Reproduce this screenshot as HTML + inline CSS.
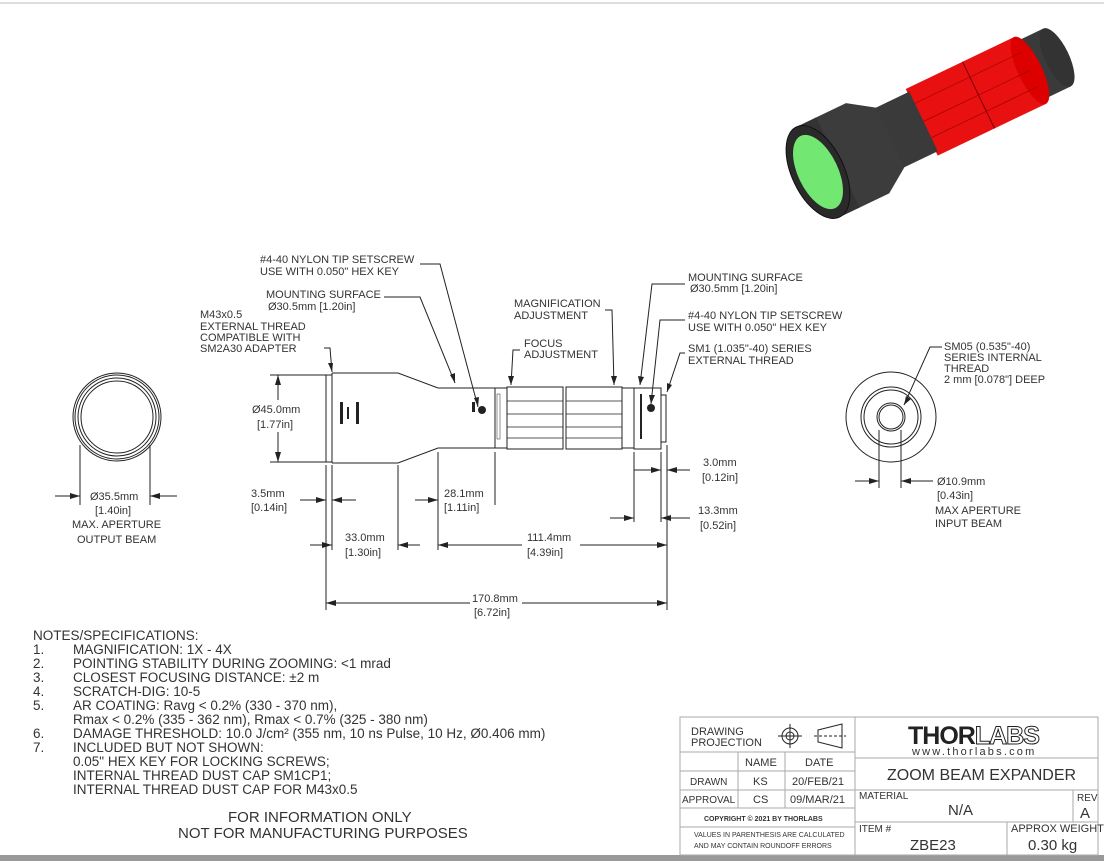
<!DOCTYPE html>
<html><head><meta charset="utf-8"><style>
body{margin:0;background:#fff}
svg{display:block;font-family:"Liberation Sans",sans-serif;fill:#333;font-size:11px}
</style></head><body>
<svg width="1104" height="861" viewBox="0 0 1104 861" xmlns="http://www.w3.org/2000/svg" font-size="11">
<rect width="1104" height="861" fill="#fff"/>
<line x1="0" y1="3" x2="1104" y2="3" stroke="#bbb"/>
<rect x="0" y="855" width="1104" height="6" fill="#999"/>

<!-- 3D render -->
<g transform="translate(818,172) rotate(-25.6)">
  <rect x="235" y="-32" width="30" height="64" fill="#3a3a3a"/>
  <ellipse cx="265" cy="0" rx="12" ry="32" fill="#333"/>
  <rect x="115" y="-37" width="120" height="74" fill="#e81010"/>
  <ellipse cx="235" cy="0" rx="12" ry="37" fill="#d00"/>
  <line x1="178" y1="-37" x2="178" y2="37" stroke="#700"/>
  <line x1="115" y1="-20" x2="235" y2="-20" stroke="#900" stroke-width=".6"/>
  <line x1="115" y1="0" x2="235" y2="0" stroke="#900" stroke-width=".6"/>
  <line x1="115" y1="18" x2="235" y2="18" stroke="#900" stroke-width=".6"/>
  <rect x="75" y="-33" width="42" height="66" fill="#3a3a3a"/>
  <path d="M20,-50 L55,-50 L80,-33 L80,33 L55,50 L20,50 Z" fill="#3c3c3c"/>
  <rect x="0" y="-50" width="22" height="100" fill="#333"/>
  <ellipse cx="0" cy="0" rx="26" ry="50" fill="#2a2a2a" stroke="#111"/>
  <ellipse cx="0" cy="0" rx="20" ry="40" fill="#72e872"/>
</g>

<!-- left end view -->
<g fill="none" stroke="#222">
<circle cx="117" cy="417" r="44"/><circle cx="117" cy="417" r="42"/><circle cx="117" cy="417" r="39"/><circle cx="117" cy="417" r="36"/>
<line x1="80" y1="445" x2="80" y2="505"/><line x1="150" y1="445" x2="150" y2="505"/>
<line x1="55" y1="496" x2="80" y2="496"/><line x1="150" y1="496" x2="177" y2="496"/>
</g>
<path d="M80,496 l-10,-3 v6z M150,496 l10,-3 v6z" fill="#222"/>
<text x="90" y="500">Ø35.5mm</text><text x="95" y="514">[1.40in]</text>
<text x="72" y="528">MAX. APERTURE</text><text x="77" y="543">OUTPUT BEAM</text>

<!-- main body -->
<g fill="none" stroke="#222">
<rect x="326" y="375" width="6" height="87"/>
<path d="M332,373 L398,373 L438,388 L495,388 M332,463 L398,463 L438,448 L495,448 M332,373 V463"/>
<rect x="495" y="388" width="12" height="60"/>
<rect x="507" y="387" width="56" height="62"/>
<rect x="566" y="387" width="56" height="62"/>
<rect x="622" y="388" width="12" height="60"/>
<rect x="634" y="388" width="27" height="61"/>
<rect x="661" y="395" width="5" height="47"/>
<path d="M507,401 H563 M507,414 H563 M507,427 H563 M507,438 H563 M566,401 H622 M566,414 H622 M566,427 H622 M566,438 H622" stroke-width=".7"/>
<line x1="270" y1="375" x2="326" y2="375"/><line x1="270" y1="462" x2="326" y2="462"/>
<line x1="278" y1="375" x2="278" y2="400"/><line x1="278" y1="432" x2="278" y2="462"/>
<line x1="326" y1="465" x2="326" y2="610"/><line x1="332" y1="465" x2="332" y2="550"/>
<line x1="398" y1="465" x2="398" y2="550"/><line x1="438" y1="452" x2="438" y2="550"/>
<line x1="495" y1="452" x2="495" y2="505"/>
<line x1="634" y1="452" x2="634" y2="522"/><line x1="661" y1="452" x2="661" y2="522"/>
<line x1="667" y1="445" x2="667" y2="610"/>
<line x1="300" y1="500" x2="326" y2="500"/><line x1="332" y1="500" x2="356" y2="500"/>
<line x1="310" y1="545" x2="332" y2="545"/><line x1="398" y1="545" x2="420" y2="545"/>
<line x1="415" y1="500" x2="438" y2="500"/>
<line x1="438" y1="545" x2="522" y2="545"/><line x1="580" y1="545" x2="667" y2="545"/>
<line x1="326" y1="603" x2="470" y2="603"/><line x1="522" y1="603" x2="667" y2="603"/>
<line x1="634" y1="470" x2="661" y2="470"/><line x1="667" y1="470" x2="690" y2="470"/>
<line x1="610" y1="518" x2="634" y2="518"/><line x1="661" y1="518" x2="690" y2="518"/>
<polyline points="324,348 330,348 332,372"/>
<polyline points="384,297 420,297 455,383"/>
<polyline points="420,264 440,264 478,407"/>
<polyline points="520,350 513,350 511,385"/>
<polyline points="605,310 612,310 614,385"/>
<polyline points="685,284 652,284 640,385"/>
<polyline points="685,320 660,320 651,404"/>
<polyline points="685,353 680,353 667,392"/>
<polyline points="942,347 930,347 904,405"/>
</g>
<path d="M278,375 l-3,10 h6z M278,462 l-3,-10 h6z M326,500 l-10,-3 v6z M332,500 l10,-3 v6z M332,545 l-10,-3 v6z M398,545 l10,-3 v6z M438,500 l-10,-3 v6z M438,545 l10,-3 v6z M667,545 l-10,-3 v6z M326,603 l10,-3 v6z M667,603 l-10,-3 v6z M661,470 l-10,-3 v6z M667,470 l10,-3 v6z M634,518 l-10,-3 v6z M661,518 l10,-3 v6z
M332,372 l-4,-9 l5,0z M455,383 l-5,-8 l5,-2z M478,407 l-4,-9 l5,-1z M511,385 l-3,-9 h6z M614,385 l-3,-9 h6z M640,385 l-2,-9 l6,1z M651,404 l-2,-9 l6,0z M667,392 l0,-9 l5,2z M904,405 l2,-9 l5,3z" fill="#222"/>
<g fill="#222"><rect x="340" y="402" width="3" height="22"/><rect x="347" y="407" width="2" height="12"/><rect x="356" y="402" width="3" height="22"/><rect x="472" y="402" width="3" height="10"/><circle cx="482" cy="410" r="4"/><rect x="497" y="394" width="3" height="45" fill="none" stroke="#222" stroke-width=".5"/><rect x="640" y="394" width="2" height="45"/><circle cx="651" cy="408" r="4"/></g>

<text x="260" y="263">#4-40 NYLON TIP SETSCREW</text><text x="260" y="275">USE WITH 0.050" HEX KEY</text>
<text x="266" y="298">MOUNTING SURFACE</text><text x="268" y="310">Ø30.5mm [1.20in]</text>
<text x="200" y="318">M43x0.5</text><text x="200" y="330">EXTERNAL THREAD</text><text x="200" y="341">COMPATIBLE WITH</text><text x="200" y="352">SM2A30 ADAPTER</text>
<text x="514" y="307">MAGNIFICATION</text><text x="514" y="319">ADJUSTMENT</text>
<text x="524" y="347">FOCUS</text><text x="524" y="358">ADJUSTMENT</text>
<text x="688" y="281">MOUNTING SURFACE</text><text x="690" y="292">Ø30.5mm [1.20in]</text>
<text x="688" y="319">#4-40 NYLON TIP SETSCREW</text><text x="688" y="331">USE WITH 0.050" HEX KEY</text>
<text x="688" y="352">SM1 (1.035"-40) SERIES</text><text x="688" y="364">EXTERNAL THREAD</text>
<text x="252" y="413">Ø45.0mm</text><text x="257" y="428">[1.77in]</text>
<text x="251" y="497">3.5mm</text><text x="251" y="511">[0.14in]</text>
<text x="345" y="541">33.0mm</text><text x="345" y="556">[1.30in]</text>
<text x="444" y="497">28.1mm</text><text x="444" y="511">[1.11in]</text>
<text x="527" y="541">111.4mm</text><text x="527" y="556">[4.39in]</text>
<text x="472" y="602">170.8mm</text><text x="474" y="616">[6.72in]</text>
<text x="703" y="466">3.0mm</text><text x="702" y="481">[0.12in]</text>
<text x="698" y="514">13.3mm</text><text x="700" y="529">[0.52in]</text>

<g fill="none" stroke="#222">
<circle cx="891" cy="417" r="45"/><circle cx="891" cy="417" r="30"/><circle cx="891" cy="417" r="27"/><circle cx="891" cy="417" r="14"/><circle cx="891" cy="417" r="12"/>
<line x1="879" y1="430" x2="879" y2="488"/><line x1="901" y1="430" x2="901" y2="488"/>
<line x1="855" y1="481" x2="879" y2="481"/><line x1="901" y1="481" x2="933" y2="481"/>
</g>
<path d="M879,481 l-10,-3 v6z M901,481 l10,-3 v6z" fill="#222"/>
<text x="944" y="350">SM05 (0.535"-40)</text><text x="944" y="361">SERIES INTERNAL</text><text x="944" y="372">THREAD</text><text x="944" y="383">2 mm [0.078"] DEEP</text>
<text x="937" y="485">Ø10.9mm</text><text x="937" y="499">[0.43in]</text><text x="935" y="514">MAX APERTURE</text><text x="935" y="527">INPUT BEAM</text>

<g font-size="13.5">
<text x="33" y="640">NOTES/SPECIFICATIONS:</text>
<text x="33" y="654">1.</text><text x="73" y="654">MAGNIFICATION: 1X - 4X</text>
<text x="33" y="668">2.</text><text x="73" y="668">POINTING STABILITY DURING ZOOMING: &lt;1 mrad</text>
<text x="33" y="682">3.</text><text x="73" y="682">CLOSEST FOCUSING DISTANCE: ±2 m</text>
<text x="33" y="696">4.</text><text x="73" y="696">SCRATCH-DIG: 10-5</text>
<text x="33" y="710">5.</text><text x="73" y="710">AR COATING: Ravg &lt; 0.2% (330 - 370 nm),</text>
<text x="73" y="724">Rmax &lt; 0.2% (335 - 362 nm), Rmax &lt; 0.7% (325 - 380 nm)</text>
<text x="33" y="738">6.</text><text x="73" y="738">DAMAGE THRESHOLD: 10.0 J/cm² (355 nm, 10 ns Pulse, 10 Hz, Ø0.406 mm)</text>
<text x="33" y="752">7.</text><text x="73" y="752">INCLUDED BUT NOT SHOWN:</text>
<text x="73" y="766">0.05" HEX KEY FOR LOCKING SCREWS;</text>
<text x="73" y="780">INTERNAL THREAD DUST CAP SM1CP1;</text>
<text x="73" y="794">INTERNAL THREAD DUST CAP FOR M43x0.5</text>
<text x="228" y="822" font-size="15">FOR INFORMATION ONLY</text>
<text x="178" y="838" font-size="15">NOT FOR MANUFACTURING PURPOSES</text>
</g>

<g fill="none" stroke="#aaa">
<rect x="680" y="717" width="418" height="138"/>
<line x1="855" y1="717" x2="855" y2="855"/>
<line x1="680" y1="752" x2="855" y2="752"/><line x1="680" y1="771" x2="855" y2="771"/><line x1="680" y1="790" x2="855" y2="790"/><line x1="680" y1="808" x2="855" y2="808"/><line x1="680" y1="827" x2="855" y2="827"/>
<line x1="738" y1="752" x2="738" y2="808"/><line x1="785" y1="752" x2="785" y2="808"/>
<line x1="855" y1="758" x2="1098" y2="758"/><line x1="855" y1="790" x2="1098" y2="790"/><line x1="855" y1="822" x2="1098" y2="822"/>
<line x1="1073" y1="790" x2="1073" y2="822"/><line x1="1007" y1="822" x2="1007" y2="855"/>
</g>
<g fill="none" stroke="#222">
<circle cx="790" cy="736" r="8"/><circle cx="790" cy="736" r="4"/><line x1="778" y1="736" x2="802" y2="736"/><line x1="790" y1="724" x2="790" y2="748"/>
<path d="M818,730 L842,724 L842,748 L818,742 Z"/><line x1="814" y1="736" x2="846" y2="736" stroke-dasharray="3,2"/>
</g>
<text x="691" y="735">DRAWING</text><text x="691" y="746">PROJECTION</text>
<text x="745" y="766">NAME</text><text x="805" y="766">DATE</text>
<text x="690" y="785" font-size="10">DRAWN</text><text x="753" y="785">KS</text><text x="792" y="785">20/FEB/21</text>
<text x="682" y="803" font-size="10">APPROVAL</text><text x="753" y="803">CS</text><text x="790" y="803">09/MAR/21</text>
<text x="704" y="821" font-size="7" font-weight="bold">COPYRIGHT © 2021 BY THORLABS</text>
<text x="694" y="837" font-size="7">VALUES IN PARENTHESIS ARE CALCULATED</text>
<text x="694" y="848" font-size="7">AND MAY CONTAIN ROUNDOFF ERRORS</text>
<text x="908" y="744" font-size="25" font-weight="bold" fill="#222" letter-spacing="-1">THOR<tspan fill="#fff" stroke="#222" stroke-width="1">LABS</tspan></text>
<text x="912" y="755" font-size="11" letter-spacing="2.2">www.thorlabs.com</text>
<text x="887" y="780" font-size="16">ZOOM BEAM EXPANDER</text>
<text x="859" y="799" font-size="10">MATERIAL</text><text x="948" y="815" font-size="15">N/A</text>
<text x="1077" y="801" font-size="10">REV</text><text x="1080" y="818" font-size="15">A</text>
<text x="859" y="832" font-size="10">ITEM #</text><text x="910" y="850" font-size="15">ZBE23</text>
<text x="1011" y="832" font-size="11">APPROX WEIGHT</text><text x="1028" y="850" font-size="15">0.30 kg</text>
</svg>
</body></html>
